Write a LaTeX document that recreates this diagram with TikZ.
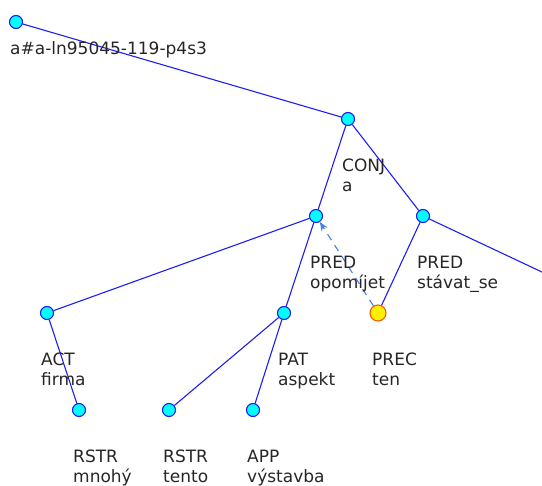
\documentclass[tikz,border=0pt]{standalone}
\usepackage{fontspec}
\setmainfont{DejaVu Sans}
\usetikzlibrary{arrows.meta}
\definecolor{nodecyan}{RGB}{0,255,255}
\definecolor{edgeblue}{RGB}{30,30,240}
\definecolor{coref}{RGB}{70,130,230}
\definecolor{precfill}{RGB}{255,240,0}
\definecolor{precdraw}{RGB}{240,90,20}
\begin{document}
\begin{tikzpicture}[x=1pt,y=-1pt,
    tnode/.style={circle,draw=edgeblue,fill=nodecyan,line width=1.1pt,minimum size=13pt,inner sep=0pt},
    pnode/.style={tnode,draw=precdraw,fill=precfill,minimum size=16pt},
    edge/.style={draw=edgeblue,line width=1.1pt},
    lbl/.style={anchor=base west,align=left,inner sep=0pt,font=\fontsize{17}{19.5}\selectfont,text=black!85}
  ]
  \clip (0,0) rectangle (542,486);
  % tree nodes
  \foreach \nm/\x/\y in {root/16/22, conj/348/119, opom/316/216, stav/423/216,
      act/47/313, pat/284/313, rstrm/79/410, rstrt/169/410, app/253/410}
    \node[tnode] (\nm) at (\x,\y) {};
  \node[pnode] (prec) at (378,313) {};
  \coordinate (offright) at (629,313);
  % edges
  \foreach \a/\b in {root/conj, conj/opom, conj/stav, opom/act, opom/pat,
      stav/prec, stav/offright, act/rstrm, pat/rstrt, pat/app}
    \draw[edge] (\a) -- (\b);
  \draw[coref,line width=1.1pt,dash pattern=on 7pt off 6pt,-{Stealth[length=9pt,width=7pt]}] (prec) -- (opom);
  % labels
  \node[lbl] (root-l) at (10,55) {a\#a-ln95045-119-p4s3};
  \foreach \nm/\txt in {conj/{CONJ\\a}, opom/{PRED\\opomíjet}, stav/{PRED\\stávat\_se},
      act/{ACT\\firma}, pat/{PAT\\aspekt}, prec/{PREC\\ten},
      rstrm/{RSTR\\mnohý}, rstrt/{RSTR\\tento}, app/{APP\\výstavba}}
    \node[lbl] (\nm-l) at ([xshift=-6pt,yshift=-72.5pt]\nm.center) {\txt};
\end{tikzpicture}
\end{document}
